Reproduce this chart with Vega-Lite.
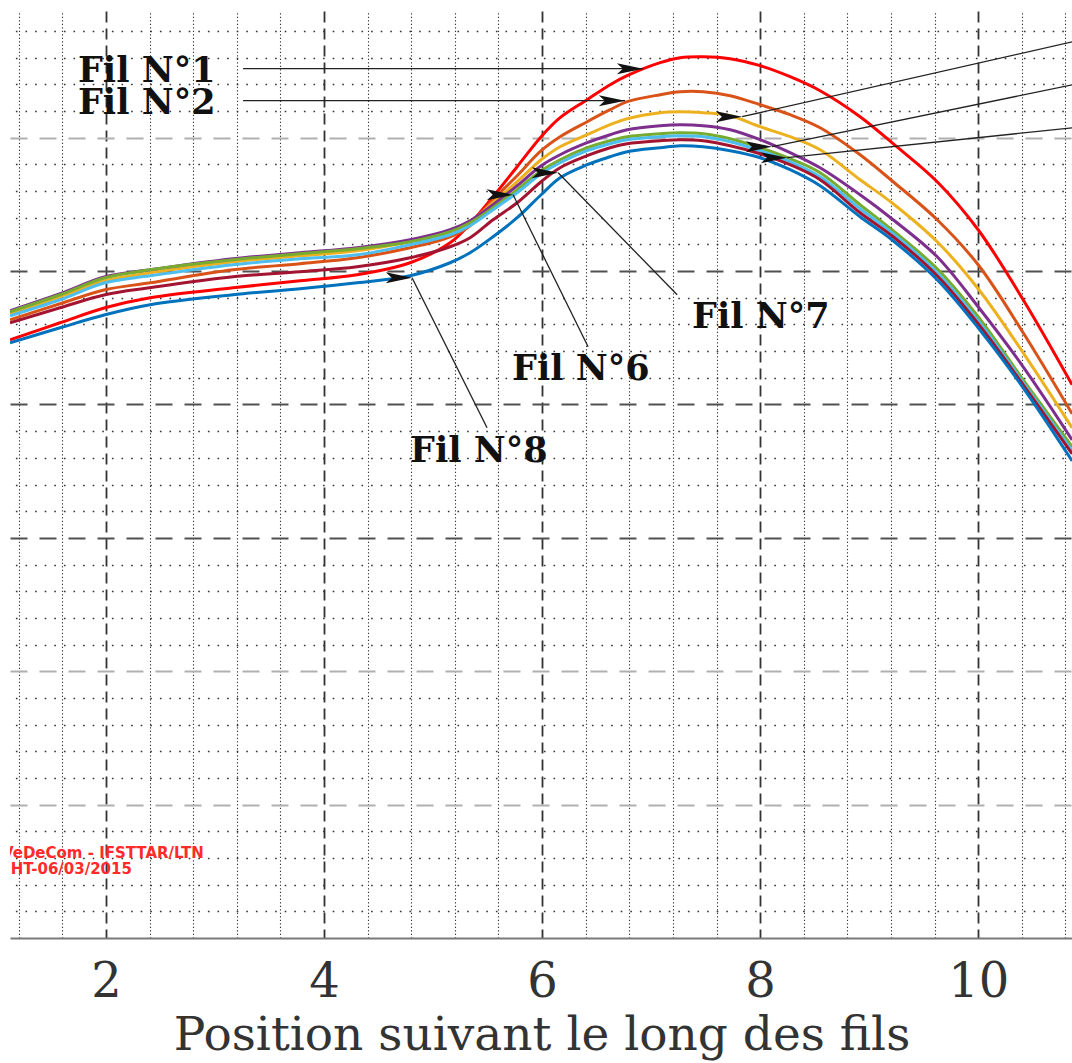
{
"$schema": "https://vega.github.io/schema/vega-lite/v6.json",
"width": 1063, "height": 927,
"autosize": {"type": "none"},
"padding": {"left": 10, "top": 11, "right": 0, "bottom": 125},
"background": "white",
"config": {"view": {"stroke": null}},
"datasets": {
"curves": [
{"fil":"Fil N°1","x":1.119,"y":4.485},{"fil":"Fil N°1","x":1.578,"y":4.6125},{"fil":"Fil N°1","x":1.991,"y":4.725},{"fil":"Fil N°1","x":2.404,"y":4.8},{"fil":"Fil N°1","x":3.165,"y":4.875},{"fil":"Fil N°1","x":3.78,"y":4.9275},{"fil":"Fil N°1","x":4.303,"y":4.9725},{"fil":"Fil N°1","x":4.789,"y":5.0625},{"fil":"Fil N°1","x":5.156,"y":5.2125},{"fil":"Fil N°1","x":5.339,"y":5.355},{"fil":"Fil N°1","x":5.55,"y":5.5575},{"fil":"Fil N°1","x":5.771,"y":5.7825},{"fil":"Fil N°1","x":5.991,"y":6.0075},{"fil":"Fil N°1","x":6.165,"y":6.15},{"fil":"Fil N°1","x":6.413,"y":6.285},{"fil":"Fil N°1","x":6.624,"y":6.3975},{"fil":"Fil N°1","x":6.78,"y":6.465},{"fil":"Fil N°1","x":7.083,"y":6.5625},{"fil":"Fil N°1","x":7.266,"y":6.6},{"fil":"Fil N°1","x":7.477,"y":6.6075},{"fil":"Fil N°1","x":7.725,"y":6.5925},{"fil":"Fil N°1","x":8.0,"y":6.54},{"fil":"Fil N°1","x":8.275,"y":6.4575},{"fil":"Fil N°1","x":8.55,"y":6.3525},{"fil":"Fil N°1","x":8.917,"y":6.1575},{"fil":"Fil N°1","x":9.22,"y":5.955},{"fil":"Fil N°1","x":9.624,"y":5.67},{"fil":"Fil N°1","x":10.0,"y":5.31},{"fil":"Fil N°1","x":10.413,"y":4.785},{"fil":"Fil N°1","x":10.862,"y":4.1475},
{"fil":"Fil N°2","x":1.119,"y":4.635},{"fil":"Fil N°2","x":1.578,"y":4.755},{"fil":"Fil N°2","x":1.991,"y":4.86},{"fil":"Fil N°2","x":2.404,"y":4.9125},{"fil":"Fil N°2","x":3.165,"y":5.01},{"fil":"Fil N°2","x":3.78,"y":5.055},{"fil":"Fil N°2","x":4.303,"y":5.1},{"fil":"Fil N°2","x":4.789,"y":5.175},{"fil":"Fil N°2","x":5.156,"y":5.2575},{"fil":"Fil N°2","x":5.339,"y":5.34},{"fil":"Fil N°2","x":5.55,"y":5.535},{"fil":"Fil N°2","x":5.771,"y":5.715},{"fil":"Fil N°2","x":5.991,"y":5.9025},{"fil":"Fil N°2","x":6.165,"y":6.0075},{"fil":"Fil N°2","x":6.413,"y":6.12},{"fil":"Fil N°2","x":6.624,"y":6.21},{"fil":"Fil N°2","x":6.78,"y":6.27},{"fil":"Fil N°2","x":7.083,"y":6.3225},{"fil":"Fil N°2","x":7.266,"y":6.345},{"fil":"Fil N°2","x":7.477,"y":6.345},{"fil":"Fil N°2","x":7.725,"y":6.315},{"fil":"Fil N°2","x":8.0,"y":6.2475},{"fil":"Fil N°2","x":8.275,"y":6.1725},{"fil":"Fil N°2","x":8.55,"y":6.075},{"fil":"Fil N°2","x":8.917,"y":5.8725},{"fil":"Fil N°2","x":9.22,"y":5.67},{"fil":"Fil N°2","x":9.624,"y":5.385},{"fil":"Fil N°2","x":10.0,"y":5.0475},{"fil":"Fil N°2","x":10.413,"y":4.5375},{"fil":"Fil N°2","x":10.862,"y":3.93},
{"fil":"Fil N°3","x":1.119,"y":4.68},{"fil":"Fil N°3","x":1.578,"y":4.8075},{"fil":"Fil N°3","x":1.991,"y":4.9275},{"fil":"Fil N°3","x":2.404,"y":4.9875},{"fil":"Fil N°3","x":3.165,"y":5.07},{"fil":"Fil N°3","x":3.78,"y":5.115},{"fil":"Fil N°3","x":4.303,"y":5.1525},{"fil":"Fil N°3","x":4.789,"y":5.22},{"fil":"Fil N°3","x":5.156,"y":5.2875},{"fil":"Fil N°3","x":5.339,"y":5.37},{"fil":"Fil N°3","x":5.55,"y":5.5125},{"fil":"Fil N°3","x":5.771,"y":5.67},{"fil":"Fil N°3","x":5.991,"y":5.835},{"fil":"Fil N°3","x":6.165,"y":5.9325},{"fil":"Fil N°3","x":6.413,"y":6.0225},{"fil":"Fil N°3","x":6.624,"y":6.0975},{"fil":"Fil N°3","x":6.78,"y":6.1425},{"fil":"Fil N°3","x":7.083,"y":6.1875},{"fil":"Fil N°3","x":7.266,"y":6.195},{"fil":"Fil N°3","x":7.477,"y":6.1875},{"fil":"Fil N°3","x":7.725,"y":6.165},{"fil":"Fil N°3","x":8.0,"y":6.0825},{"fil":"Fil N°3","x":8.275,"y":6.0075},{"fil":"Fil N°3","x":8.55,"y":5.91},{"fil":"Fil N°3","x":8.917,"y":5.685},{"fil":"Fil N°3","x":9.22,"y":5.505},{"fil":"Fil N°3","x":9.624,"y":5.22},{"fil":"Fil N°3","x":10.0,"y":4.8675},{"fil":"Fil N°3","x":10.413,"y":4.3875},{"fil":"Fil N°3","x":10.862,"y":3.825},
{"fil":"Fil N°4","x":1.119,"y":4.7025},{"fil":"Fil N°4","x":1.578,"y":4.83},{"fil":"Fil N°4","x":1.991,"y":4.9575},{"fil":"Fil N°4","x":2.404,"y":5.01},{"fil":"Fil N°4","x":3.165,"y":5.0925},{"fil":"Fil N°4","x":3.78,"y":5.1375},{"fil":"Fil N°4","x":4.303,"y":5.175},{"fil":"Fil N°4","x":4.789,"y":5.235},{"fil":"Fil N°4","x":5.156,"y":5.31},{"fil":"Fil N°4","x":5.339,"y":5.3775},{"fil":"Fil N°4","x":5.55,"y":5.4975},{"fil":"Fil N°4","x":5.771,"y":5.64},{"fil":"Fil N°4","x":5.991,"y":5.79},{"fil":"Fil N°4","x":6.165,"y":5.8725},{"fil":"Fil N°4","x":6.413,"y":5.9625},{"fil":"Fil N°4","x":6.624,"y":6.0225},{"fil":"Fil N°4","x":6.78,"y":6.06},{"fil":"Fil N°4","x":7.083,"y":6.09},{"fil":"Fil N°4","x":7.266,"y":6.0975},{"fil":"Fil N°4","x":7.477,"y":6.09},{"fil":"Fil N°4","x":7.725,"y":6.06},{"fil":"Fil N°4","x":8.0,"y":5.985},{"fil":"Fil N°4","x":8.275,"y":5.8875},{"fil":"Fil N°4","x":8.55,"y":5.775},{"fil":"Fil N°4","x":8.917,"y":5.5725},{"fil":"Fil N°4","x":9.22,"y":5.385},{"fil":"Fil N°4","x":9.624,"y":5.1075},{"fil":"Fil N°4","x":10.0,"y":4.7325},{"fil":"Fil N°4","x":10.413,"y":4.2825},{"fil":"Fil N°4","x":10.862,"y":3.735},
{"fil":"Fil N°5","x":1.119,"y":4.695},{"fil":"Fil N°5","x":1.578,"y":4.8225},{"fil":"Fil N°5","x":1.991,"y":4.95},{"fil":"Fil N°5","x":2.404,"y":5.01},{"fil":"Fil N°5","x":3.165,"y":5.085},{"fil":"Fil N°5","x":3.78,"y":5.13},{"fil":"Fil N°5","x":4.303,"y":5.1675},{"fil":"Fil N°5","x":4.789,"y":5.22},{"fil":"Fil N°5","x":5.156,"y":5.295},{"fil":"Fil N°5","x":5.339,"y":5.3625},{"fil":"Fil N°5","x":5.55,"y":5.475},{"fil":"Fil N°5","x":5.771,"y":5.61},{"fil":"Fil N°5","x":5.991,"y":5.7525},{"fil":"Fil N°5","x":6.165,"y":5.835},{"fil":"Fil N°5","x":6.413,"y":5.925},{"fil":"Fil N°5","x":6.624,"y":5.9775},{"fil":"Fil N°5","x":6.78,"y":6.0075},{"fil":"Fil N°5","x":7.083,"y":6.03},{"fil":"Fil N°5","x":7.266,"y":6.0375},{"fil":"Fil N°5","x":7.477,"y":6.03},{"fil":"Fil N°5","x":7.725,"y":5.9925},{"fil":"Fil N°5","x":8.0,"y":5.925},{"fil":"Fil N°5","x":8.275,"y":5.8425},{"fil":"Fil N°5","x":8.55,"y":5.7375},{"fil":"Fil N°5","x":8.917,"y":5.4975},{"fil":"Fil N°5","x":9.22,"y":5.3025},{"fil":"Fil N°5","x":9.624,"y":5.0175},{"fil":"Fil N°5","x":10.0,"y":4.6575},{"fil":"Fil N°5","x":10.413,"y":4.185},{"fil":"Fil N°5","x":10.862,"y":3.6825},
{"fil":"Fil N°6","x":1.119,"y":4.665},{"fil":"Fil N°6","x":1.578,"y":4.785},{"fil":"Fil N°6","x":1.991,"y":4.9125},{"fil":"Fil N°6","x":2.404,"y":4.965},{"fil":"Fil N°6","x":3.165,"y":5.0475},{"fil":"Fil N°6","x":3.78,"y":5.0925},{"fil":"Fil N°6","x":4.303,"y":5.1225},{"fil":"Fil N°6","x":4.789,"y":5.1975},{"fil":"Fil N°6","x":5.156,"y":5.2725},{"fil":"Fil N°6","x":5.339,"y":5.34},{"fil":"Fil N°6","x":5.55,"y":5.46},{"fil":"Fil N°6","x":5.771,"y":5.5875},{"fil":"Fil N°6","x":5.991,"y":5.73},{"fil":"Fil N°6","x":6.165,"y":5.8125},{"fil":"Fil N°6","x":6.413,"y":5.9025},{"fil":"Fil N°6","x":6.624,"y":5.955},{"fil":"Fil N°6","x":6.78,"y":5.985},{"fil":"Fil N°6","x":7.083,"y":6.0075},{"fil":"Fil N°6","x":7.266,"y":6.015},{"fil":"Fil N°6","x":7.477,"y":6.0075},{"fil":"Fil N°6","x":7.725,"y":5.97},{"fil":"Fil N°6","x":8.0,"y":5.9025},{"fil":"Fil N°6","x":8.275,"y":5.82},{"fil":"Fil N°6","x":8.55,"y":5.7075},{"fil":"Fil N°6","x":8.917,"y":5.4675},{"fil":"Fil N°6","x":9.22,"y":5.28},{"fil":"Fil N°6","x":9.624,"y":4.9875},{"fil":"Fil N°6","x":10.0,"y":4.6275},{"fil":"Fil N°6","x":10.413,"y":4.1625},{"fil":"Fil N°6","x":10.862,"y":3.6525},
{"fil":"Fil N°7","x":1.119,"y":4.6125},{"fil":"Fil N°7","x":1.578,"y":4.725},{"fil":"Fil N°7","x":1.991,"y":4.8225},{"fil":"Fil N°7","x":2.404,"y":4.875},{"fil":"Fil N°7","x":3.165,"y":4.9575},{"fil":"Fil N°7","x":3.78,"y":4.995},{"fil":"Fil N°7","x":4.303,"y":5.0325},{"fil":"Fil N°7","x":4.789,"y":5.1},{"fil":"Fil N°7","x":5.156,"y":5.1825},{"fil":"Fil N°7","x":5.339,"y":5.25},{"fil":"Fil N°7","x":5.55,"y":5.385},{"fil":"Fil N°7","x":5.771,"y":5.5125},{"fil":"Fil N°7","x":5.991,"y":5.67},{"fil":"Fil N°7","x":6.165,"y":5.775},{"fil":"Fil N°7","x":6.413,"y":5.865},{"fil":"Fil N°7","x":6.624,"y":5.925},{"fil":"Fil N°7","x":6.78,"y":5.955},{"fil":"Fil N°7","x":7.083,"y":5.9775},{"fil":"Fil N°7","x":7.266,"y":5.985},{"fil":"Fil N°7","x":7.477,"y":5.9775},{"fil":"Fil N°7","x":7.725,"y":5.94},{"fil":"Fil N°7","x":8.0,"y":5.88},{"fil":"Fil N°7","x":8.275,"y":5.7975},{"fil":"Fil N°7","x":8.55,"y":5.685},{"fil":"Fil N°7","x":8.917,"y":5.4375},{"fil":"Fil N°7","x":9.22,"y":5.2575},{"fil":"Fil N°7","x":9.624,"y":4.965},{"fil":"Fil N°7","x":10.0,"y":4.605},{"fil":"Fil N°7","x":10.413,"y":4.1475},{"fil":"Fil N°7","x":10.862,"y":3.63},
{"fil":"Fil N°8","x":1.119,"y":4.4625},{"fil":"Fil N°8","x":1.578,"y":4.575},{"fil":"Fil N°8","x":1.991,"y":4.6725},{"fil":"Fil N°8","x":2.404,"y":4.7475},{"fil":"Fil N°8","x":3.165,"y":4.8225},{"fil":"Fil N°8","x":3.78,"y":4.8675},{"fil":"Fil N°8","x":4.303,"y":4.9125},{"fil":"Fil N°8","x":4.789,"y":4.965},{"fil":"Fil N°8","x":5.156,"y":5.0625},{"fil":"Fil N°8","x":5.339,"y":5.1375},{"fil":"Fil N°8","x":5.55,"y":5.2575},{"fil":"Fil N°8","x":5.771,"y":5.4},{"fil":"Fil N°8","x":5.991,"y":5.5725},{"fil":"Fil N°8","x":6.165,"y":5.7},{"fil":"Fil N°8","x":6.413,"y":5.7975},{"fil":"Fil N°8","x":6.624,"y":5.8575},{"fil":"Fil N°8","x":6.78,"y":5.895},{"fil":"Fil N°8","x":7.083,"y":5.925},{"fil":"Fil N°8","x":7.266,"y":5.94},{"fil":"Fil N°8","x":7.477,"y":5.9325},{"fil":"Fil N°8","x":7.725,"y":5.9025},{"fil":"Fil N°8","x":8.0,"y":5.85},{"fil":"Fil N°8","x":8.275,"y":5.76},{"fil":"Fil N°8","x":8.55,"y":5.64},{"fil":"Fil N°8","x":8.917,"y":5.4075},{"fil":"Fil N°8","x":9.22,"y":5.2275},{"fil":"Fil N°8","x":9.624,"y":4.935},{"fil":"Fil N°8","x":10.0,"y":4.575},{"fil":"Fil N°8","x":10.413,"y":4.125},{"fil":"Fil N°8","x":10.862,"y":3.5775}
],
"labels": [
{"label":"Fil N°1","x":1.743,"y":6.42},
{"label":"Fil N°2","x":1.743,"y":6.18},
{"label":"Fil N°6","x":5.725,"y":4.185},
{"label":"Fil N°7","x":7.376,"y":4.575},
{"label":"Fil N°8","x":4.789,"y":3.57}
],
"arrows": [
{"arrow":"a1","x":3.257,"y":6.5175,"x2":6.927,"y2":6.5175},
{"arrow":"a2","x":3.257,"y":6.2775,"x2":6.761,"y2":6.2775},
{"arrow":"a3","x":10.87,"y":6.72,"x2":7.835,"y2":6.1575},
{"arrow":"a4","x":10.87,"y":6.3975,"x2":8.11,"y2":5.9325},
{"arrow":"a5","x":10.87,"y":6.075,"x2":8.248,"y2":5.85},
{"arrow":"a6","x":6.422,"y":4.4325,"x2":5.734,"y2":5.5725},
{"arrow":"a7","x":7.239,"y":4.8225,"x2":6.147,"y2":5.7375},
{"arrow":"a8","x":5.495,"y":3.825,"x2":4.807,"y2":4.95}
],
"stamp": [
{"text":"VeDeCom - IFSTTAR/LTN","x":1.045,"y":0.6},
{"text":"HT-06/03/2015","x":1.125,"y":0.48}
]
},
"layer": [
{
"data": {"name": "curves"},
"mark": {"type": "line", "strokeWidth": 3, "interpolate": "catmull-rom", "clip": true},
"encoding": {
"x": {"field": "x", "type": "quantitative",
"scale": {"domain": [1.119, 10.87], "nice": false, "zero": false},
"axis": {"values": [2,4,6,8,10], "grid": true, "gridColor": "#333333", "gridDash": [11,6], "gridWidth": 1.8,
"ticks": false, "domain": true, "domainColor": "#7a7a7a", "domainWidth": 2,
"labelFont": "DejaVu Serif", "labelFontSize": 48, "labelColor": "#333333", "labelPadding": 20,
"labelFlush": false, "labelOverlap": false,
"title": "Position suivant le long des fils", "titleFont": "DejaVu Serif", "titleFontSize": 47,
"titleFontWeight": "normal", "titleColor": "#333333", "titlePadding": 6}},
"y": {"field": "y", "type": "quantitative",
"scale": {"domain": [0, 6.95], "nice": false, "zero": false},
"axis": {"values": [1,2,3,4,5,6], "grid": true,
"gridColor": {"condition": {"test": "datum.value == 6 || datum.value <= 2", "value": "#b0b0b0"}, "value": "#505050"},
"gridDash": [17,12], "gridWidth": 2, "labels": false, "ticks": false, "domain": false, "title": null}},
"color": {"field": "fil", "type": "nominal",
"scale": {"domain": ["Fil N°1","Fil N°2","Fil N°3","Fil N°4","Fil N°5","Fil N°6","Fil N°7","Fil N°8"],
"range": ["#ff0000","#d95319","#edb120","#7e2f8e","#77ac30","#4dbeee","#a2142f","#0072bd"]},
"legend": null}
}
},
{
"data": {"name": "arrows"},
"mark": {"type": "rule", "color": "#222222", "strokeWidth": 1.3, "clip": true},
"encoding": {
"x": {"field": "x", "type": "quantitative",
"axis": {"orient": "top", "values": [1.2,1.6,2.4,2.8,3.2,3.6,4.4,4.8,5.2,5.6,6.4,6.8,7.2,7.6,8.4,8.8,9.2,9.6,10.4,10.8],
"grid": true, "gridColor": "#333333", "gridDash": [1.3,2.2], "gridWidth": 1.1,
"labels": false, "ticks": false, "domain": false, "title": null}},
"y": {"field": "y", "type": "quantitative",
"axis": {"orient": "right", "values": [0.2,0.4,0.6,0.8,1.2,1.4,1.6,1.8,2.2,2.4,2.6,2.8,3.2,3.4,3.6,3.8,4.2,4.4,4.6,4.8,5.2,5.4,5.6,5.8,6.2,6.4,6.6,6.8],
"grid": true, "gridColor": "#333333", "gridDash": [1.6,8], "gridWidth": 1.5,
"labels": false, "ticks": false, "domain": false, "title": null}},
"x2": {"field": "x2"},
"y2": {"field": "y2"}
}
},
{
"data": {"name": "arrows"},
"mark": {"type": "point", "shape": "M0,0 L0.5,2.4 L0,1.85 L-0.5,2.4 Z", "filled": true, "color": "#111111", "opacity": 1, "size": 480, "strokeWidth": 0},
"encoding": {
"x": {"field": "x2", "type": "quantitative", "axis": null},
"y": {"field": "y2", "type": "quantitative", "axis": null},
"angle": {"field": "arrow", "type": "nominal",
"scale": {"domain": ["a1","a2","a3","a4","a5","a6","a7","a8"], "range": [90,90,257,258,264,334,316,333]},
"legend": null}
}
},
{
"data": {"name": "labels"},
"mark": {"type": "text", "font": "DejaVu Serif", "fontWeight": "bold", "fontSize": 35, "align": "left", "baseline": "alphabetic", "color": "#111111"},
"encoding": {
"x": {"field": "x", "type": "quantitative", "axis": null},
"y": {"field": "y", "type": "quantitative", "axis": null},
"text": {"field": "label"}
}
},
{
"data": {"name": "stamp"},
"mark": {"type": "text", "font": "DejaVu Sans", "fontWeight": "bold", "fontSize": 15, "align": "left", "baseline": "alphabetic", "color": "#ff2a2a", "clip": true},
"encoding": {
"x": {"field": "x", "type": "quantitative", "axis": null},
"y": {"field": "y", "type": "quantitative", "axis": null},
"text": {"field": "text"}
}
}
],
"resolve": {"axis": {"x": "independent", "y": "independent"}}
}
